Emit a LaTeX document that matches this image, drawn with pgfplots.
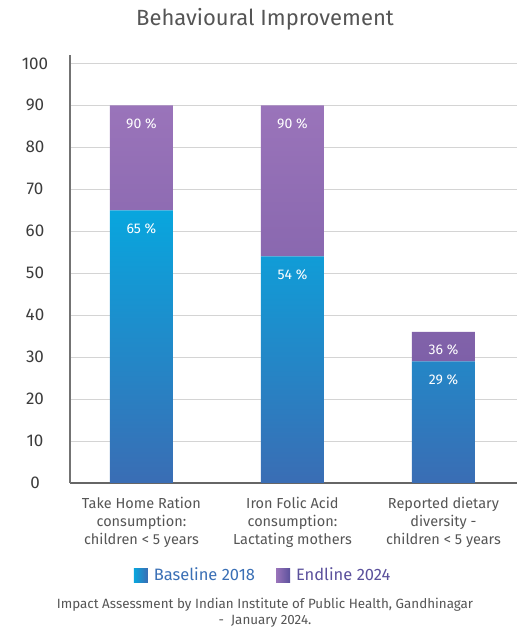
\documentclass[border=0pt]{standalone}
\usepackage{fontspec}
\setmainfont{Fira Sans}
\usepackage{pgfplots}
\pgfplotsset{compat=1.18}

\definecolor{txt}{HTML}{555555}
\definecolor{ticktxt}{HTML}{3c3c3c}
\definecolor{gridc}{HTML}{D4D4D4}
\definecolor{blueT}{HTML}{08A6DE}
\definecolor{blueB}{HTML}{3A6DB4}
\definecolor{purT}{HTML}{9A74BA}
\definecolor{purB}{HTML}{7E60A8}
\definecolor{legBlue}{HTML}{3A6FB5}
\definecolor{legPur}{HTML}{5B519C}

\pgfplotsset{frame/.style={
  at={(70bp,148bp)}, anchor=south west,
  scale only axis,
  width=447bp, height=428bp,
  xmin=-0.473, xmax=2.487,
  ymin=0, ymax=102,
  /pgf/number format/assume math mode=true}}

\begin{document}
\begin{tikzpicture}
\useasboundingbox (0,0) rectangle (517bp,631bp);
\begin{axis}[
  frame,
  ybar stacked,
  bar width=63bp,
  ytick={0,10,...,100},
  xtick={0,1,2},
  xticklabels={{Take Home Ration\\consumption:\\children < 5 years},
               {Iron Folic Acid\\consumption:\\Lactating mothers},
               {Reported dietary\\diversity -\\children < 5 years}},
  xticklabel style={align=center, text=txt, font=\fontsize{14.5bp}{18bp}\selectfont, yshift=-11bp},
  yticklabel style={text=ticktxt, font=\fontsize{17bp}{19bp}\selectfont, anchor=center, xshift=-35bp},
  major tick length=0pt,
  ymajorgrids,
  grid style={gridc, line width=1pt},
  axis x line*=bottom,
  axis y line*=left,
  x axis line style={draw=black!60, line width=1.6pt},
  y axis line style={draw=black!55, line width=1.2pt},
  legend style={at={(0.432,-0.215)}, anchor=center, draw=none, fill=none,
    legend columns=-1, font=\fontsize{16.5bp}{18bp}\selectfont,
    /tikz/every odd column/.append style={column sep=4bp},
    /tikz/every even column/.append style={column sep=19bp}},
]
\addplot[draw=none, top color=blueT, bottom color=blueB,
  legend image code/.code={\shade[left color=blueT, right color=blueB] (-4bp,-7bp) rectangle (10bp,7bp);}]
  coordinates {(0,65) (1,54) (2,29)};
\addplot[draw=none, top color=purT, bottom color=purB,
  legend image code/.code={\shade[left color=purT, right color=legPur] (-4bp,-7bp) rectangle (10bp,7bp);}]
  coordinates {(0,25) (1,36) (2,7)};
\legend{\textcolor{legBlue}{Baseline 2018}, \textcolor{legPur}{Endline 2024}}
\end{axis}
% value labels, placed just below the top of each bar part
\begin{axis}[frame, hide axis]
\addplot[draw=none, mark=none,
  nodes near coords={\pgfmathprintnumber{\pgfplotspointmeta}~\%},
  point meta=explicit,
  every node near coord/.append style={text=white, anchor=center, yshift=-18bp,
    font=\fontsize{14bp}{16bp}\selectfont}]
  coordinates {(0,65)[65] (1,54)[54] (2,29)[29] (0,90)[90] (1,90)[90] (2,36)[36]};
\end{axis}
\node[text=txt, font=\fontsize{22bp}{26bp}\selectfont] at (265bp,612bp) {Behavioural Improvement};
\node[text=txt, font=\fontsize{13.4bp}{16bp}\selectfont, align=center] at (265bp,18bp)
  {Impact Assessment by Indian Institute of Public Health, Gandhinagar\\-~ January 2024.};
\end{tikzpicture}
\end{document}
